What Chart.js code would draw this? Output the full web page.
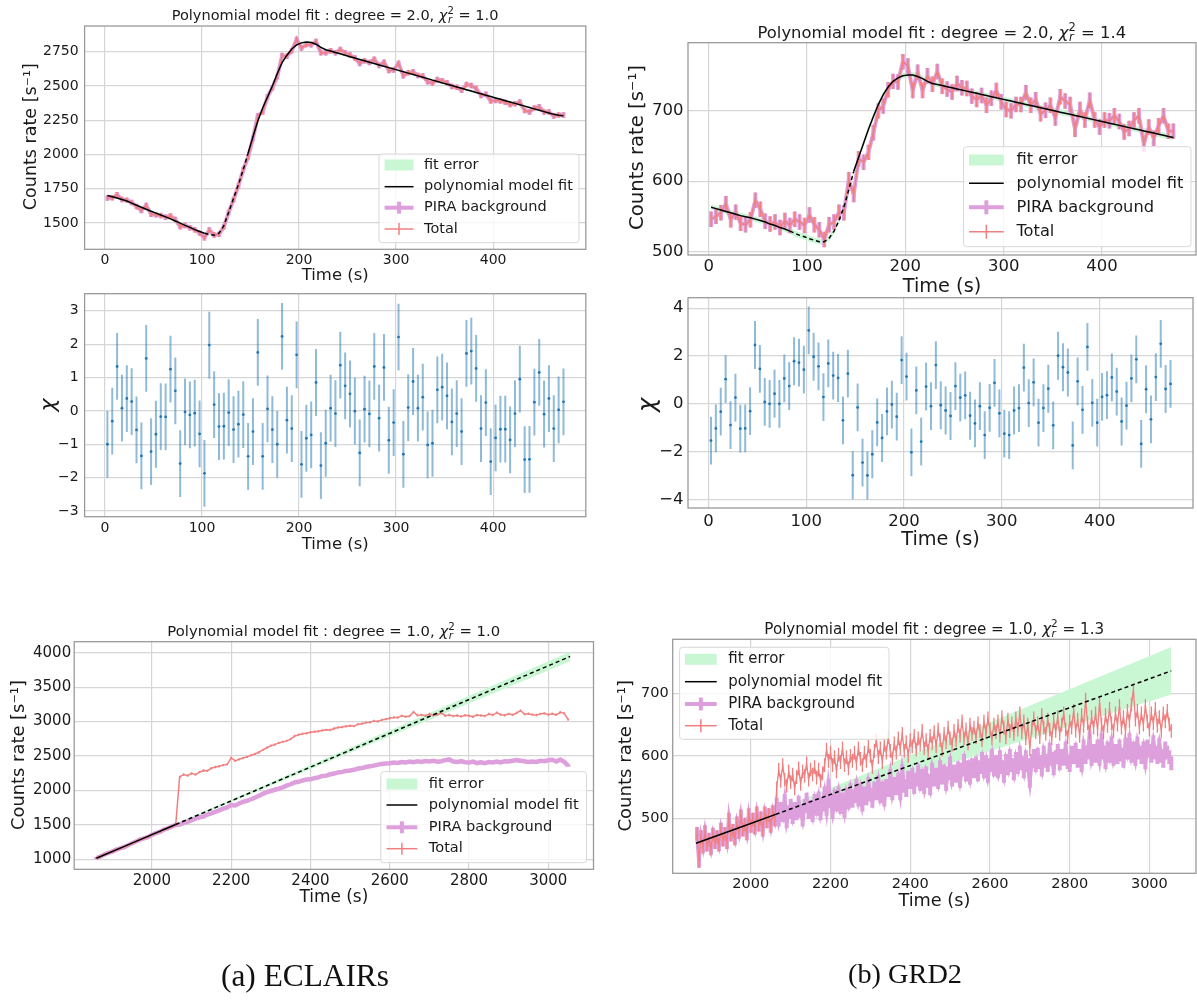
<!DOCTYPE html>
<html>
<head>
<meta charset="utf-8">
<title>Polynomial model fit - ECLAIRs / GRD2</title>
<script src="https://cdn.jsdelivr.net/npm/chart.js@4.4.1/dist/chart.umd.min.js"></script>
<style>
  body { margin: 0; background: #fff; }
  #page { position: relative; width: 1197px; height: 1001px; overflow: hidden; background: #fff; }
  #page canvas { position: absolute; left: 0; top: 0; }
  .caption { position: absolute; width: 300px; text-align: center; font-family: "Liberation Serif", serif; color: #111; line-height: 1; }
</style>
</head>
<body>
<div id="page">
  <canvas id="eclairsFit" width="1197" height="1001"></canvas>
  <canvas id="eclairsChi" width="1197" height="1001"></canvas>
  <canvas id="grdFit" width="1197" height="1001"></canvas>
  <canvas id="grdChi" width="1197" height="1001"></canvas>
  <canvas id="eclairsSlew" width="1197" height="1001"></canvas>
  <canvas id="grdSlew" width="1197" height="1001"></canvas>
  <div class="caption" id="capA" style="left:155px;top:960px;">(a) ECLAIRs</div>
  <div class="caption" id="capB" style="left:755px;top:960px;">(b) GRD2</div>
</div>
<script>
// top row: 5 s bins from 2.5 s
const timeTopStart = 2.5, timeTopStep = 5, timeTopCount = 95;
const xTicksTop = [0, 100, 200, 300, 400];

const countsA1 = [
  1682,1685,1706,1672,1667,1650,1620,1591,1628,1564,
  1560,1555,1542,1552,1526,1472,1482,1466,1451,1426,
  1393,1449,1413,1417,1472,1579,1670,1772,1888,1982,
  2117,2283,2310,2421,2487,2567,2722,2718,2757,2840,
  2777,2802,2801,2825,2743,2742,2757,2743,2767,2742,
  2726,2704,2665,2685,2672,2695,2649,2674,2614,2616,
  2665,2574,2596,2604,2576,2573,2531,2521,2547,2539,
  2523,2496,2491,2469,2511,2503,2481,2431,2439,2390,
  2395,2391,2381,2364,2371,2384,2321,2311,2339,2348,
  2311,2311,2281,2288,2288];
const fitA1 = [
  1700,1691,1682,1671,1660,1645,1630,1615,1600,1586,
  1572,1558,1545,1530,1515,1499,1483,1468,1452,1438,
  1425,1416,1410,1425,1480,1580,1680,1780,1890,2010,
  2130,2245,2340,2420,2500,2590,2670,2725,2770,2800,
  2815,2822,2818,2805,2782,2765,2755,2745,2735,2724,
  2714,2704,2694,2684,2674,2664,2654,2644,2634,2624,
  2614,2604,2594,2584,2574,2564,2554,2543,2533,2523,
  2513,2503,2493,2483,2473,2463,2453,2443,2433,2423,
  2413,2403,2393,2383,2373,2363,2353,2343,2333,2323,
  2313,2303,2293,2287,2282];
const errA1 = 20, bandA1 = 8, dashA1 = [102.5, 147.5];
const yTicksA1 = [1500, 1750, 2000, 2250, 2500, 2750];

const chiA2 = [
  -1.0,-0.31,1.33,0.08,0.37,0.28,-0.57,-1.35,1.57,-1.22,
  -0.70,-0.17,-0.18,1.25,0.60,-1.58,-0.03,-0.12,-0.07,-0.69,
  -1.87,1.97,0.19,-0.47,-0.46,-0.05,-0.56,-0.40,-0.11,-1.36,
  -0.62,1.75,-1.36,0.06,-0.56,-1.0,2.23,-0.28,-0.53,1.68,
  -1.6,-0.82,-0.72,0.85,-1.64,-0.97,0.08,-0.08,1.37,0.75,
  0.51,-0.01,-1.26,0.05,-0.09,1.33,-0.22,1.30,-0.88,-0.35,
  2.21,-1.30,0.10,0.88,0.08,0.41,-1.02,-0.97,0.63,0.71,
  0.45,-0.33,-0.08,-0.62,1.72,1.79,1.27,-0.53,0.25,-1.52,
  -0.81,-0.55,-0.55,-0.87,-0.08,0.95,-1.46,-1.45,0.26,1.15,
  -0.10,0.37,-0.53,0.03,0.27];
const yTicksA2 = [-3, -2, -1, 0, 1, 2, 3];

const countsB1 = [
  546,550,555,568,545,556,540,538,545,573,
  560,543,539,542,534,544,537,546,542,537,
  552,538,531,517,538,542,556,555,602,581,
  632,627,641,669,700,707,730,742,741,770,
  764,729,755,729,750,738,756,735,731,727,
  739,733,732,721,716,722,708,718,729,713,
  702,700,709,709,726,708,716,696,701,708,
  690,720,714,709,674,702,687,715,687,677,
  687,686,693,685,670,675,687,693,653,677,
  661,679,693,671,671];
const fitB1 = [
  563,561,559,557,555,553,551,549.5,548,546,
  544,542,539,537,534,532,529,526,523,521,
  518,516,514,514,519,529,544,563,588,614,
  634,654,674,692,709,723,734,742,747,750,
  751,751,749,746,742,739,737.5,736,734.4,732.8,
  731.2,729.7,728.1,726.5,725,723.4,721.8,720.2,718.7,717.1,
  715.5,714,712.4,710.8,709.2,707.7,706.1,704.5,703,701.4,
  699.8,698.2,696.7,695.1,693.5,692,690.4,688.8,687.2,685.7,
  684.1,682.5,681,679.4,677.8,676.2,674.7,673.1,671.5,670,
  668.4,666.8,665.2,663.7,662.1];
const errB1 = 11, bandB1 = 4, dashB1 = [82.5, 147.5];
const yTicksB1 = [500, 600, 700];

const chiB2 = [
  -1.54,-1.03,-0.33,1.03,-0.89,0.26,-1.04,-1.03,-0.31,2.46,
  1.46,0.08,0.0,0.42,0.0,1.06,0.74,1.78,1.72,1.43,
  3.07,1.97,1.57,0.28,1.69,1.18,1.08,-0.69,1.26,-2.99,
  -0.15,-2.46,-3.0,-2.11,-0.78,-1.43,-0.32,-0.03,-0.54,1.83,
  1.14,-2.03,0.56,-1.58,0.72,-0.1,1.62,-0.06,-0.28,-0.51,
  0.74,0.26,0.35,-0.5,-0.82,-0.1,-1.31,-0.17,0.88,-0.4,
  -1.25,-1.31,-0.28,-0.18,1.51,0.03,0.9,-0.79,-0.18,0.63,
  -0.9,2.01,1.53,1.31,-1.74,0.94,-0.25,2.38,0.04,-0.79,
  0.29,0.36,1.1,0.51,-0.74,-0.08,1.06,1.86,-1.68,0.61,
  -0.65,1.12,2.51,0.62,0.83];
const yTicksB2 = [-4, -2, 0, 2, 4];

// bottom row, ECLAIRs: 10 s bins from 1860 s
const timeA3Start = 1860, timeA3Step = 10;
const earlyA3 = [1018,1040,1070,1092,1112,1140,1160,1178,1205,1232,1258,1286,1305,1322,1356,1380,1398,1430,1448,1475,1498];
const totalA3Late = [
  2195,2232,2215,2248,2230,2265,2290,2285,2322,2340,
  2352,2368,2380,2475,2430,2452,2470,2488,2510,2530,
  2555,2590,2620,2650,2665,2690,2705,2720,2745,2790,
  2810,2822,2830,2845,2852,2860,2872,2880,2878,2900,
  2915,2920,2932,2940,2935,2962,2970,2985,2990,3010,
  3002,3025,3035,3048,3060,3058,3085,3072,3080,3140,
  3090,3098,3085,3110,3092,3100,3125,3085,3095,3080,
  3088,3075,3092,3085,3070,3095,3088,3080,3110,3095,
  3130,3100,3092,3112,3098,3125,3160,3108,3115,3100,
  3095,3112,3120,3100,3115,3098,3135,3120,3030];
const bkgA3Late = [
  1505,1530,1545,1565,1590,1610,1622,1650,1668,1690,
  1712,1735,1752,1790,1782,1810,1835,1850,1872,1895,
  1922,1950,1975,1992,2010,2025,2045,2070,2090,2115,
  2125,2145,2158,2162,2178,2190,2210,2215,2235,2245,
  2262,2270,2282,2290,2300,2318,2325,2340,2352,2360,
  2375,2385,2392,2395,2405,2398,2412,2405,2420,2410,
  2422,2415,2428,2420,2430,2418,2425,2440,2450,2420,
  2412,2425,2410,2405,2420,2398,2410,2395,2412,2405,
  2418,2408,2425,2420,2430,2440,2432,2425,2412,2420,
  2415,2430,2425,2438,2445,2420,2450,2415,2360];
const fitTimeA3 = [1860,1960,2060,2160,2260,2360,2460,2560,2660,2760,2860,2960,3055];
const fitA3 = [1015,1260,1505,1750,1996,2241,2486,2731,2976,3222,3467,3712,3945];
const bandA3 = [10,6,10,16,22,28,34,40,46,52,58,64,70];
const errA3 = 17, dashA3 = [2060, 3055];
const xTicksBottom = [2000, 2200, 2400, 2600, 2800, 3000];
const yTicksA3 = [1000, 1500, 2000, 2500, 3000, 3500, 4000];

// bottom row, GRD2: 5 s bins from 1865 s
const timeB3Start = 1865, timeB3Step = 5;
const earlyB3 = [
  475,432,470,455,478,458,466,452,474,462,
  470,458,482,466,475,462,498,474,480,468,
  492,478,503,482,490,476,505,488,498,485,
  508,490,500,482,508,495,505,488,510,498];
const totalB3Late = [
  548,578,560,585,562,552,575,558,570,548,
  566,580,555,575,568,588,562,578,570,582,
  565,578,560,572,585,610,592,605,585,598,
  575,602,590,612,585,598,580,600,592,605,
  588,612,595,585,605,592,615,600,582,608,
  625,598,612,590,618,605,630,608,596,620,
  605,628,612,635,608,622,600,625,615,632,
  610,628,618,640,612,625,608,632,620,638,
  615,642,625,610,635,622,645,628,618,640,
  625,648,632,655,628,642,620,650,635,645,
  630,652,640,625,655,638,660,642,628,650,
  638,655,632,662,645,630,658,640,652,635,
  660,642,668,638,655,628,650,612,645,660,
  638,652,630,665,645,635,658,642,628,655,
  640,662,635,650,668,642,630,655,645,672,
  640,658,632,665,648,690,652,638,662,645,
  668,642,685,650,638,665,648,675,652,640,
  668,650,680,645,662,640,672,655,682,705,
  658,672,645,668,650,680,655,642,668,652,
  675,648,662,640,668,655,672,650,640];
const bkgB3Late = [
  522,498,515,505,528,495,510,520,502,515,
  508,525,512,498,520,530,510,518,505,528,
  515,532,508,522,540,515,552,528,510,535,
  522,540,518,530,512,538,525,545,528,535,
  552,530,545,522,540,532,555,538,528,548,
  540,558,535,548,530,552,545,568,540,555,
  548,562,540,575,552,545,565,558,570,550,
  562,575,555,568,550,572,560,548,578,562,
  570,558,582,565,575,555,572,588,562,575,
  568,580,560,578,592,570,582,565,585,575,
  588,570,582,595,575,590,568,585,600,578,
  590,575,598,582,568,592,580,600,585,572,
  595,582,605,588,575,598,585,560,592,600,
  585,602,590,578,605,592,585,610,595,580,
  598,608,588,600,595,612,590,585,605,598,
  610,592,600,585,615,598,605,628,595,608,
  600,615,595,625,605,590,612,600,620,595,
  608,598,615,602,592,618,605,625,600,612,
  595,620,605,598,612,590,615,608,600,622,
  605,598,618,600,592,612,605,598,588];
const fitTimeB3 = [1862.5,1960,2062.5,2160,2260,2360,2460,2560,2660,2760,2860,2960,3055];
const fitB3 = [460,482.6,506.3,528.9,552,575.1,598.3,621.4,644.5,667.7,690.8,713.9,735.9];
const bandB3 = [6,3,6,9,12,15,19,22,25,28.5,31.5,35,38];
const errB3 = 11, dashB3 = [2062.5, 3055];
const yTicksB3 = [500, 600, 700];

const legendLabels = ['fit error', 'polynomial model fit', 'PIRA background', 'Total'];

const W = 1197, H = 1001, AXW = 60, AXH = 30;
const FONT = '"DejaVu Sans", sans-serif';
const GREEN = '#c9f7d4', PLUM = '#dda0dd', CORAL = '#f08080', BLUE = '#1f77b4';
const GRID = '#d6d6d6', FRAME = '#9a9a9a', INK = '#1a1a1a';
const DECO = {};

function times(start, step, n) {
  return Array.from({length: n}, (_, i) => start + step * i);
}
function pts(xs, ys) {
  return ys.map((y, i) => ({x: xs[i], y: y}));
}
function dashed(range) {
  return ctx => (ctx.p0.parsed.x >= range[0] && ctx.p1.parsed.x <= range[1]) ? [4, 3] : undefined;
}

function bandSets(xs, hi, lo) {
  return [
    {data: pts(xs, hi), showLine: true, pointRadius: 0, borderColor: 'rgba(0,0,0,0)', order: 6},
    {data: pts(xs, lo), showLine: true, pointRadius: 0, borderColor: 'rgba(0,0,0,0)', fill: '-1', backgroundColor: GREEN, order: 6}
  ];
}
function countSet(xs, ys, color, width, err, order) {
  return {data: pts(xs, ys), showLine: true, pointRadius: 0, borderColor: color, borderWidth: width,
          err: err, errWidth: width, order: order};
}
function fitSet(xs, ys, dash) {
  return {data: pts(xs, ys), showLine: true, pointRadius: 0, borderColor: '#000', borderWidth: 1.5,
          segment: {borderDash: dashed(dash)}, order: 1};
}
function chiSet(xs, ys) {
  return {data: pts(xs, ys), showLine: false, pointRadius: 1.4, pointBorderWidth: 0,
          pointBackgroundColor: BLUE, err: 1, errWidth: 2, errColor: 'rgba(31,119,180,0.5)', order: 1};
}

const errorBars = {
  id: 'errorBars',
  beforeDatasetDraw(chart, args) {
    const ds = chart.data.datasets[args.index];
    if (!ds.err) return;
    const ctx = chart.ctx, a = chart.chartArea, sx = chart.scales.x, sy = chart.scales.y;
    ctx.save();
    ctx.beginPath();
    ctx.rect(a.left, a.top, a.right - a.left, a.bottom - a.top);
    ctx.clip();
    ctx.strokeStyle = ds.errColor || ds.borderColor;
    ctx.lineWidth = ds.errWidth;
    ctx.beginPath();
    ds.data.forEach(p => {
      const px = sx.getPixelForValue(p.x);
      ctx.moveTo(px, sy.getPixelForValue(p.y - ds.err));
      ctx.lineTo(px, sy.getPixelForValue(p.y + ds.err));
    });
    ctx.stroke();
    ctx.restore();
  }
};

function fitSize(ctx, text, style, target) {
  ctx.font = style + '100px ' + FONT;
  return 100 * target / ctx.measureText(text).width;
}

function drawTitle(ctx, deg, chi, cx, cy, target) {
  const pre = 'Polynomial model fit : degree = ' + deg + ', ';
  const post = ' = ' + chi;
  const m = (t, st, s) => { ctx.font = st + s + 'px ' + FONT; return ctx.measureText(t).width; };
  const base = m(pre, '', 100) + m('\u03c7', 'italic ', 100) + Math.max(m('2', '', 70), m('r', 'italic ', 70)) + m(post, '', 100);
  const s = 100 * target / base;
  let x = cx - target / 2;
  const yb = cy + 0.36 * s;
  ctx.textAlign = 'left';
  ctx.textBaseline = 'alphabetic';
  const wPre = m(pre, '', s);
  ctx.fillText(pre, x, yb);
  x += wPre;
  const wChi = m('\u03c7', 'italic ', s);
  ctx.fillText('\u03c7', x, yb);
  x += wChi;
  const w2 = m('2', '', 0.7 * s);
  ctx.fillText('2', x, yb - 0.42 * s);
  const wr = m('r', 'italic ', 0.7 * s);
  ctx.fillText('r', x + 0.5, yb + 0.22 * s);
  x += Math.max(w2, wr);
  m(post, '', s);
  ctx.fillText(post, x, yb);
}

function line(ctx, x0, y0, x1, y1, color, w) {
  ctx.strokeStyle = color;
  ctx.lineWidth = w;
  ctx.beginPath();
  ctx.moveTo(x0, y0);
  ctx.lineTo(x1, y1);
  ctx.stroke();
}

function drawLegend(ctx, L) {
  const l = L.box[0], t = L.box[1], r = L.box[2], b = L.box[3];
  ctx.beginPath();
  ctx.roundRect(l, t, r - l, b - t, 3);
  ctx.fillStyle = 'rgba(255,255,255,0.8)';
  ctx.fill();
  ctx.strokeStyle = '#d8d8d8';
  ctx.lineWidth = 1;
  ctx.stroke();
  const size = fitSize(ctx, legendLabels[1], '', L.textW);
  const h0 = L.hx[0], h1 = L.hx[1], hm = (h0 + h1) / 2, v = L.bar;
  legendLabels.forEach((lab, i) => {
    const y = L.rows[i];
    if (i === 0) {
      ctx.fillStyle = GREEN;
      ctx.fillRect(h0, y - 5.5, h1 - h0, 11);
    } else if (i === 1) {
      line(ctx, h0, y, h1, y, '#000', 1.5);
    } else if (i === 2) {
      line(ctx, h0, y, h1, y, PLUM, 4);
      line(ctx, hm, y - v, hm, y + v, PLUM, 4);
    } else {
      line(ctx, h0, y, h1, y, CORAL, 1.5);
      line(ctx, hm, y - v, hm, y + v, CORAL, 1.5);
    }
    ctx.fillStyle = INK;
    ctx.font = size + 'px ' + FONT;
    ctx.textAlign = 'left';
    ctx.textBaseline = 'middle';
    ctx.fillText(lab, L.tx, y);
  });
}

const deco = {
  id: 'deco',
  afterDraw(chart) {
    const c = DECO[chart.canvas.id], ctx = chart.ctx, a = chart.chartArea;
    const cx = (a.left + a.right) / 2;
    ctx.save();
    ctx.strokeStyle = FRAME;
    ctx.lineWidth = 1.3;
    ctx.strokeRect(a.left, a.top, a.right - a.left, a.bottom - a.top);
    ctx.fillStyle = INK;
    if (c.title) drawTitle(ctx, c.title[0], c.title[1], cx, c.titleY, c.titleW);
    let s = fitSize(ctx, 'Time (s)', '', c.xLabel[1]);
    ctx.font = s + 'px ' + FONT;
    ctx.textAlign = 'center';
    ctx.textBaseline = 'middle';
    ctx.fillText('Time (s)', cx, c.xLabel[0]);
    ctx.save();
    if (c.yLabel) {
      s = fitSize(ctx, 'Counts rate [s\u207b\u00b9]', '', c.yLabel[2]);
      ctx.translate(c.yLabel[0], c.yLabel[1]);
      ctx.rotate(-Math.PI / 2);
      ctx.font = s + 'px ' + FONT;
      ctx.fillText('Counts rate [s\u207b\u00b9]', 0, 0);
    } else {
      ctx.translate(c.chiLabel[0], c.chiLabel[1]);
      ctx.rotate(-Math.PI / 2);
      ctx.font = 'italic ' + c.chiLabel[2] + 'px ' + FONT;
      ctx.fillText('\u03c7', 0, 0);
    }
    ctx.restore();
    if (c.legend) drawLegend(ctx, c.legend);
    ctx.restore();
  }
};

function axis(range, ticks, size, pad, isX) {
  return {
    type: 'linear', min: range[0], max: range[1],
    afterFit: s => { if (isX) s.height = AXH; else s.width = AXW; },
    afterBuildTicks: s => { s.ticks = ticks.map(v => ({value: v})); },
    grid: {color: GRID, lineWidth: 1.2, drawTicks: false},
    border: {display: false},
    ticks: {font: {family: FONT, size: size}, color: INK, padding: pad, autoSkip: false, maxRotation: 0,
            callback: v => v < 0 ? '\u2212' + (-v) : String(v)}
  };
}

function makePanel(id, c) {
  DECO[id] = c;
  const b = c.box;
  return new Chart(document.getElementById(id), {
    type: 'scatter',
    data: {datasets: c.datasets},
    options: {
      responsive: false, animation: false, events: [],
      layout: {padding: {left: b[0] - AXW, top: b[1], right: W - b[2], bottom: H - b[3] - AXH}},
      plugins: {legend: {display: false}, tooltip: {enabled: false}, title: {display: false}},
      scales: {
        x: axis(c.x, c.xTicks, c.tick, c.xPad, true),
        y: axis(c.y, c.yTicks, c.tick, c.yPad, false)
      }
    },
    plugins: [errorBars, deco]
  });
}

const timeTop = times(timeTopStart, timeTopStep, timeTopCount);
const timeA3 = times(timeA3Start, timeA3Step, earlyA3.length + totalA3Late.length);
const timeB3 = times(timeB3Start, timeB3Step, earlyB3.length + totalB3Late.length);
const totalA3 = earlyA3.concat(totalA3Late), bkgA3 = earlyA3.concat(bkgA3Late);
const totalB3 = earlyB3.concat(totalB3Late), bkgB3 = earlyB3.concat(bkgB3Late);

makePanel('eclairsFit', {
  box: [84.6, 26, 585.8, 249.3], x: [-21, 495.5], y: [1308, 2938], tick: 14, xPad: 2.5, yPad: 6,
  xTicks: xTicksTop, yTicks: yTicksA1,
  title: ['2.0', '1.0'], titleY: 15, titleW: 327,
  yLabel: [31, 136.7, 147], xLabel: [276, 67],
  legend: {box: [379, 154, 579, 242.7], rows: [165, 186.7, 207.7, 229], hx: [384.6, 413.5], tx: 424, textW: 149, bar: 6},
  datasets: bandSets(timeTop, fitA1.map(v => v + bandA1), fitA1.map(v => v - bandA1)).concat([
    countSet(timeTop, countsA1, PLUM, 4, errA1, 4),
    countSet(timeTop, countsA1, CORAL, 1.5, errA1, 3),
    fitSet(timeTop, fitA1, dashA1)
  ])
});

makePanel('eclairsChi', {
  box: [84.6, 293.7, 585.8, 516.7], x: [-21, 495.5], y: [-3.17, 3.51], tick: 14, xPad: 3, yPad: 6,
  xTicks: xTicksTop, yTicks: yTicksA2,
  chiLabel: [49, 405, 22], xLabel: [545, 67],
  datasets: [chiSet(timeTop, chiA2)]
});

makePanel('grdFit', {
  box: [688, 42.7, 1196, 255], x: [-21, 495.5], y: [495, 797], tick: 16.5, xPad: 2, yPad: 4.5,
  xTicks: xTicksTop, yTicks: yTicksB1,
  title: ['2.0', '1.4'], titleY: 31.7, titleW: 369,
  yLabel: [638, 147.5, 165], xLabel: [286.7, 78.5],
  legend: {box: [963.6, 146.7, 1191, 246.7], rows: [160, 183.3, 207.3, 231.7], hx: [969, 1003.7], tx: 1016.4, textW: 167, bar: 7},
  datasets: bandSets(timeTop, fitB1.map(v => v + bandB1), fitB1.map(v => v - bandB1)).concat([
    countSet(timeTop, countsB1, PLUM, 4, errB1, 4),
    countSet(timeTop, countsB1, CORAL, 1.5, errB1, 3),
    fitSet(timeTop, fitB1, dashB1)
  ])
});

makePanel('grdChi', {
  box: [688, 297.7, 1196, 508], x: [-21, 495.5], y: [-4.36, 4.44], tick: 16.5, xPad: 3.5, yPad: 4.5,
  xTicks: xTicksTop, yTicks: yTicksB2,
  chiLabel: [648.6, 405, 24], xLabel: [540, 78.5],
  datasets: [chiSet(timeTop, chiB2)]
});

makePanel('eclairsSlew', {
  box: [74.2, 641.7, 593.5, 869.3], x: [1804, 3114], y: [855, 4160], tick: 15, xPad: 2.5, yPad: 3,
  xTicks: xTicksBottom, yTicks: yTicksA3,
  title: ['1.0', '1.0'], titleY: 630.7, titleW: 333,
  yLabel: [19, 755, 150], xLabel: [898, 69],
  legend: {box: [380.8, 771.7, 586.5, 862.7], rows: [784, 805, 827.3, 848.7], hx: [386.5, 417.3], tx: 428.8, textW: 150, bar: 6},
  datasets: bandSets(fitTimeA3, fitA3.map((v, i) => v + bandA3[i]), fitA3.map((v, i) => v - bandA3[i])).concat([
    countSet(timeA3, bkgA3, PLUM, 4.5, errA3, 4),
    countSet(timeA3, totalA3, CORAL, 1.5, errA3, 3),
    fitSet(fitTimeA3, fitA3, dashA3)
  ])
});

makePanel('grdSlew', {
  box: [672.7, 639.3, 1196, 873.3], x: [1804, 3117], y: [412, 786.4], tick: 14.5, xPad: 2, yPad: 4,
  xTicks: xTicksBottom, yTicks: yTicksB3,
  title: ['1.0', '1.3'], titleY: 628.3, titleW: 340,
  yLabel: [626.8, 755.8, 151.7], xLabel: [901.7, 72],
  legend: {box: [679.6, 647.3, 889, 739.3], rows: [659.3, 681.7, 704, 725.7], hx: [685, 716.7], tx: 728.2, textW: 154, bar: 6.5},
  datasets: bandSets(fitTimeB3, fitB3.map((v, i) => v + bandB3[i]), fitB3.map((v, i) => v - bandB3[i])).concat([
    countSet(timeB3, bkgB3, PLUM, 4, errB3, 4),
    countSet(timeB3, totalB3, CORAL, 1.3, errB3, 3),
    fitSet(fitTimeB3, fitB3, dashB3)
  ])
});

function fitCaption(id, target) {
  const el = document.getElementById(id);
  const c = document.createElement('canvas').getContext('2d');
  c.font = '100px "Liberation Serif"';
  el.style.fontSize = (100 * target / c.measureText(el.textContent).width) + 'px';
}
fitCaption('capA', 168);
fitCaption('capB', 114);
</script>
</body>
</html>
